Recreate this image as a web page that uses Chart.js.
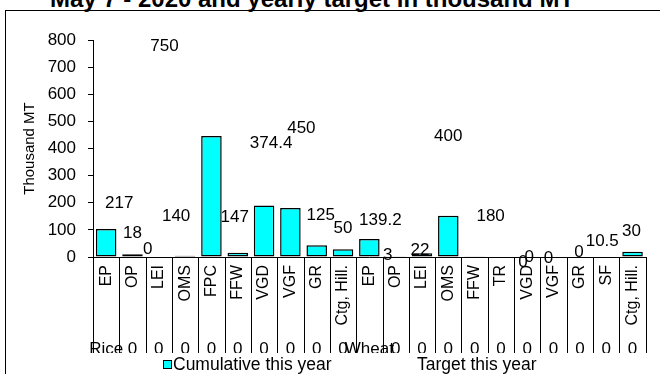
<!DOCTYPE html>
<html>
<head>
<meta charset="utf-8">
<script src="https://cdn.jsdelivr.net/npm/chart.js@4.4.1/dist/chart.umd.min.js"></script>
<style>
  html, body { margin: 0; padding: 0; background: #fff; overflow: hidden; width: 660px; height: 374px; }
  #frame { position: absolute; left: 5px; top: 10px; width: 700px; height: 420px; border: 1px solid #000; }
  #title { position: absolute; left: 0; top: -13px; width: 624px; text-align: center; color: #000;
           font: bold 24px 'Liberation Sans', Arial, sans-serif; line-height: 24px; white-space: nowrap; }
  #wrap { position: absolute; left: 0; top: 0; width: 660px; height: 374px; }
</style>
</head>
<body>
<div id="frame"></div>
<div id="title">May 7 - 2020 and yearly target in thousand MT</div>
<div id="wrap"><canvas id="chart" width="660" height="374"></canvas></div>
<script>
// categories (two groups: Rice, Wheat)
const items = ['EP', 'OP', 'LEI', 'OMS', 'FPC', 'FFW', 'VGD', 'VGF', 'GR', 'Ctg, Hill.',
               'EP', 'OP', 'LEI', 'OMS', 'FFW', 'TR', 'VGD', 'VGF', 'GR', 'SF', 'Ctg, Hill.'];
const groupNames = ['Rice', 'Wheat'];
const groupSizes = [10, 11];
const tableRow = ['0', '0', '0', '0', '0', '0', '0', '0', '0', '0',
                  '0', '0', '0', '0', '0', '0', '0', '0', '0', '0', '0'];

// series
const cumulative = [103, 10, 0, 5, 446, 16, 190, 181, 43, 29,
                    66, 1, 14, 152, 3, 0, 0, 0, 0, 0, 19];
const target = [217, 18, 0, 140, 750, 147, 374.4, 450, 125, 50,
                139.2, 3, 22, 400, 180, 0, 0, 0, 0, 10.5, 30];

// y axis
const yMin = 0;
const yMax = 800;
const yStep = 100;

// hand placement of the target labels, as in the source chart (pixels)
const labelNudge = [[13, 13], [0, -11], [-11, 0], [-9, 5], [-47, 1], [-3, 8], [7, -4], [11, 1], [4, 0], [0, -7],
                    [11, 9], [-8, 7], [-2, 7], [0, -4], [16, 16], [22, 13], [2, 8], [-5, 9], [-1, 3], [-4, -5], [-1, -10]];

const FONT = "'Liberation Sans', Arial, sans-serif";

// Draws the category separators, group row, table row, target labels and legend
const extras = {
    id: 'extras',
    afterDraw(chart) {
        const { ctx, chartArea } = chart;
        const x = chart.scales.x;
        const y = chart.scales.y;
        const step = x.getPixelForValue(1) - x.getPixelForValue(0);
        const base = chartArea.bottom;

        ctx.save();
        ctx.beginPath();
        ctx.rect(0, 0, chart.width, 353);
        ctx.clip();

        // table row of zeros, hidden under the group names
        ctx.fillStyle = '#000';
        ctx.font = '17px ' + FONT;
        ctx.textAlign = 'center';
        ctx.textBaseline = 'middle';
        const firsts = [];
        let start = 0;
        groupSizes.forEach(n => { firsts.push(start); start += n; });
        tableRow.forEach((t, i) => {
            if (firsts.includes(i)) return;
            ctx.fillText(t, x.getPixelForValue(i), 349);
        });
        groupNames.forEach((g, k) => {
            ctx.fillText(g, x.getPixelForValue(firsts[k]), 349);
        });

        // separators between categories
        ctx.strokeStyle = '#000';
        ctx.lineWidth = 1;
        ctx.beginPath();
        for (let i = 0; i <= items.length; i++) {
            const px = Math.round(x.getPixelForValue(i) - step / 2) + 0.5;
            ctx.moveTo(px, base);
            ctx.lineTo(px, 353);
        }
        ctx.stroke();
        ctx.restore();

        // target labels
        ctx.save();
        ctx.fillStyle = '#000';
        ctx.font = '17px ' + FONT;
        ctx.textAlign = 'center';
        ctx.textBaseline = 'middle';
        target.forEach((v, i) => {
            const [dx, dy] = labelNudge[i];
            ctx.fillText(String(v), x.getPixelForValue(i) + dx, y.getPixelForValue(v) - 8 + dy);
        });

        // legend
        ctx.font = '17.5px ' + FONT;
        ctx.textAlign = 'left';
        const ds = chart.data.datasets;
        ctx.fillStyle = ds[0].backgroundColor;
        ctx.fillRect(163.5, 360.5, 8, 8);
        ctx.strokeStyle = '#000';
        ctx.strokeRect(163.5, 360.5, 8, 8);
        ctx.fillStyle = '#000';
        ctx.fillText(ds[0].label, 173, 365);
        ctx.fillText(ds[1].label, 417, 365);
        ctx.restore();
    }
};

new Chart(document.getElementById('chart'), {
    type: 'bar',
    data: {
        labels: items,
        datasets: [
            {
                label: 'Cumulative this year',
                data: cumulative,
                backgroundColor: '#00FFFF',
                borderColor: '#000',
                borderWidth: 1.5,
                borderSkipped: false,
                barPercentage: 0.78,
                categoryPercentage: 1.0
            },
            {
                type: 'line',
                label: 'Target this year',
                data: target,
                showLine: false,
                pointRadius: 0,
                pointHoverRadius: 0
            }
        ]
    },
    options: {
        responsive: false,
        animation: false,
        devicePixelRatio: 1,
        layout: { padding: { top: 40, right: 11, bottom: 0, left: 0 } },
        plugins: {
            legend: { display: false },
            title: { display: false },
            tooltip: { enabled: false }
        },
        scales: {
            x: {
                offset: true,
                grid: { display: true, drawOnChartArea: false, drawTicks: false },
                border: { display: true, color: '#000', width: 1 },
                ticks: {
                    autoSkip: false,
                    minRotation: 90,
                    maxRotation: 90,
                    padding: 8,
                    color: '#000',
                    font: { size: 16, family: FONT }
                },
                afterFit: s => { s.height = 117; }
            },
            y: {
                min: yMin,
                max: yMax,
                ticks: {
                    stepSize: yStep,
                    padding: 12,
                    color: '#000',
                    font: { size: 17, family: FONT }
                },
                grid: { drawOnChartArea: false, drawTicks: true, tickLength: 5, color: '#000' },
                border: { color: '#000', width: 1 },
                title: {
                    display: true,
                    text: 'Thousand MT',
                    color: '#000',
                    font: { size: 15, family: FONT },
                    padding: { top: 21, bottom: 0 }
                },
                afterFit: s => { s.width = 93; }
            }
        }
    },
    plugins: [extras]
});
</script>
</body>
</html>
